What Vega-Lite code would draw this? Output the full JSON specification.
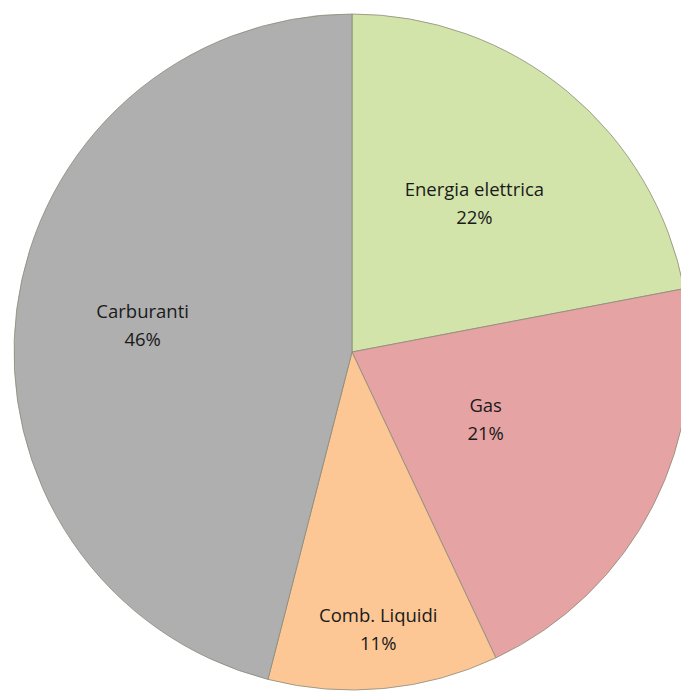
{
  "$schema": "https://vega.github.io/schema/vega-lite/v6.json",
  "autosize": "none",
  "width": 658,
  "height": 678,
  "padding": {"left": 23, "top": 13, "right": 0, "bottom": 0},
  "background": "white",
  "config": {"view": {"stroke": null}},
  "data": {"values": [
    {"category": "Energia elettrica", "share": 0.22, "rank": 1},
    {"category": "Gas", "share": 0.21, "rank": 2},
    {"category": "Comb. Liquidi", "share": 0.11, "rank": 3},
    {"category": "Carburanti", "share": 0.46, "rank": 4}
  ]},
  "transform": [
    {"stack": "share", "groupby": [], "sort": [{"field": "rank", "order": "ascending"}], "as": ["t0", "t1"]},
    {"calculate": "(datum.t0 + datum.t1) / 2", "as": "tmid"}
  ],
  "layer": [
    {
      "mark": {"type": "arc", "outerRadius": 338, "stroke": "#8a8a7a", "strokeWidth": 0.8},
      "encoding": {
        "theta": {"field": "t0", "type": "quantitative", "scale": {"domain": [0, 1]}},
        "theta2": {"field": "t1"},
        "color": {
          "field": "category", "type": "nominal", "legend": null,
          "scale": {
            "domain": ["Energia elettrica", "Gas", "Comb. Liquidi", "Carburanti"],
            "range": ["#D3E4AA", "#E6A3A3", "#FCC794", "#AFAFAF"]
          }
        }
      }
    },
    {
      "mark": {"type": "text", "font": "Open Sans", "fontSize": 18.5, "color": "#1a1a1a", "dy": -14},
      "encoding": {
        "theta": {"field": "tmid", "type": "quantitative", "scale": {"domain": [0, 1]}},
        "text": {"field": "category", "type": "nominal"},
        "radius": {
          "field": "rank", "type": "quantitative",
          "scale": {"type": "linear", "zero": false, "domain": [1, 2, 3, 4], "range": [192, 150, 279, 211]}
        }
      }
    },
    {
      "mark": {"type": "text", "font": "Open Sans", "fontSize": 18.5, "color": "#1a1a1a", "dy": 14},
      "encoding": {
        "theta": {"field": "tmid", "type": "quantitative", "scale": {"domain": [0, 1]}},
        "text": {"field": "share", "type": "quantitative", "format": ".0%"},
        "radius": {
          "field": "rank", "type": "quantitative",
          "scale": {"type": "linear", "zero": false, "domain": [1, 2, 3, 4], "range": [192, 150, 279, 211]}
        }
      }
    }
  ]
}
